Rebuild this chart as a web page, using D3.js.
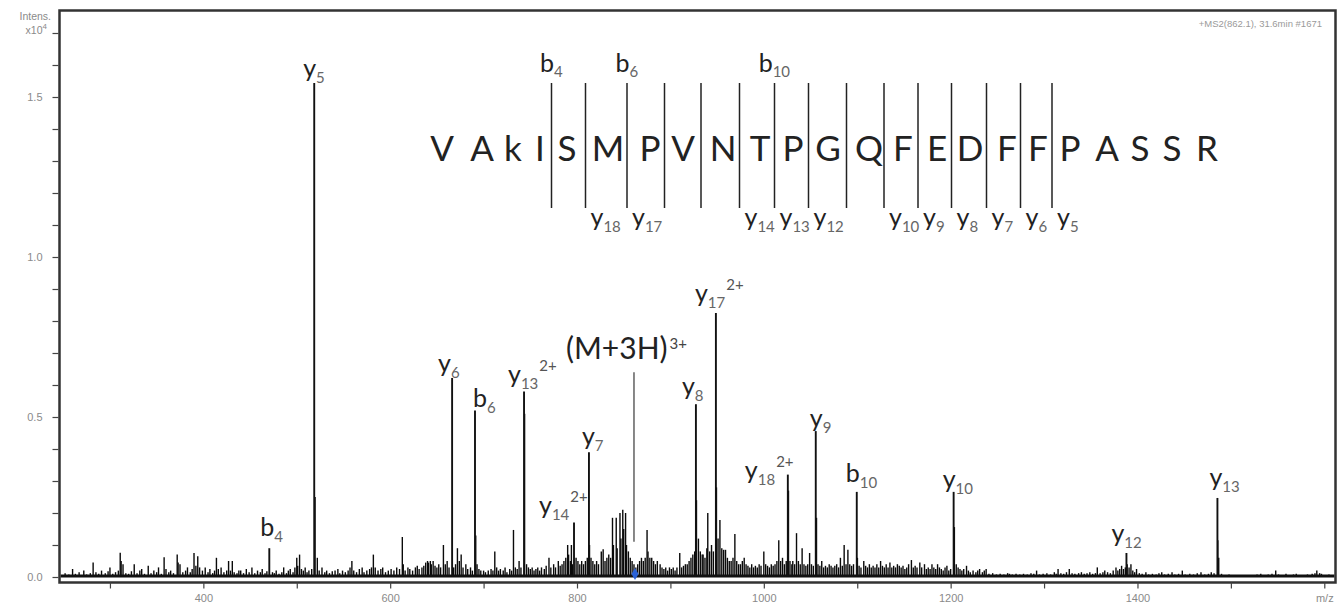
<!DOCTYPE html>
<html><head><meta charset="utf-8">
<script src="https://cdn.jsdelivr.net/npm/d3@7/dist/d3.min.js"></script>
<style>body{margin:0;background:#fff}svg{display:block}</style>
</head><body><svg id="c" width="1344" height="608"></svg>
<script>
// ---------------- DATA ----------------
const peakIons   = ["b","y","y","b","y","y","y","y","y","y","y","b","y","y","y"];
const peakNums   = ["4","5","6","6","13","14","7","8","17","18","9","10","10","12","13"];
const peakCharge = ["","","","","2+","2+","","","2+","2+","","","","",""];
const peakMz     = [470.6,518.7,666.3,690.8,743.3,796.8,812.8,927.3,948.7,1025.7,1055.6,1099.5,1203.2,1388.2,1485.6];
const peakInt    = [0.09,1.544,0.622,0.52,0.58,0.17,0.39,0.54,0.825,0.32,0.456,0.266,0.266,0.075,0.247];

const precursorMz = 862.1;
const precursorLabel = "(M+3H)";
const precursorCharge = "3+";
const precursorLeaderMz = 861;
const precursorLeaderInt = [0.11, 0.64];

const sequence = ["V","A","k","I","S","M","P","V","N","T","P","G","Q","F","E","D","F","F","P","A","S","S","R"];
const bSites = [4,6,10];
const ySites = [18,17,14,13,12,10,9,8,7,6,5];
const ySitesUnlabeled = [16,15,11];

const noise = [
[252,0.012],[256,0.008],[260,0.025],[263,0.01],[267,0.015],[272,0.02],[275,0.008],[279,0.012],[282,0.045],[285,0.015],[288,0.01],[291,0.02],[295,0.012],[298,0.018],[300,0.03],[303,0.01],[306,0.015],[309,0.02],[311,0.076],[312,0.05],[314,0.04],[317,0.012],[320,0.01],[323,0.018],[326,0.04],[329,0.012],
[332,0.02],[334,0.025],[337,0.01],[341,0.035],[344,0.012],[347,0.02],[350,0.015],[352,0.03],[355,0.01],[358,0.062],[360,0.025],[363,0.015],[365,0.02],[368,0.012],[372,0.07],[373,0.045],[375,0.04],[378,0.015],[381,0.02],[383,0.03],[386,0.015],[388,0.025],[390,0.075],[392,0.035],[394,0.065],[396,0.03],[399,0.02],[402,0.03],[405,0.015],[407,0.025],[410,0.012],[412,0.02],[414,0.06],[416,0.025],[419,0.03],
[422,0.015],[425,0.02],[427,0.05],[429,0.02],[431,0.05],[433,0.015],[436,0.012],[438,0.02],[440,0.02],[443,0.012],[446,0.025],[449,0.015],[452,0.03],[455,0.012],[458,0.02],[461,0.015],[463,0.025],[466,0.012],[468,0.018],[474,0.015],[476,0.012],[478,0.02],[481,0.01],[484,0.015],[486,0.03],[489,0.012],[491,0.02],[493,0.025],[496,0.015],[498,0.03],[500,0.06],[501,0.035],[503,0.07],[505,0.025],[507,0.02],[509,0.03],[511,0.015],[513,0.02],[516,0.025],[519.6,0.25],
[522,0.06],[524,0.02],[527,0.03],[530,0.015],[532,0.02],[535,0.012],[538,0.018],[541,0.02],[544,0.025],[546,0.012],[549,0.02],[552,0.015],[555,0.02],[557,0.03],[559,0.05],[561,0.02],[564,0.015],[567,0.025],[570,0.03],[572,0.015],[575,0.02],[578,0.025],[580,0.03],[582,0.07],[584,0.03],[587,0.02],[590,0.025],[592,0.03],[595,0.015],[598,0.02],[601,0.025],[604,0.02],[607,0.03],[610,0.025],[613,0.125],[614,0.04],[616,0.02],[619,0.03],[621,0.025],[624,0.02],[627,0.03],[629,0.035],[631,0.025],[634,0.03],[636,0.035],[638,0.045],[640,0.05],[641,0.045],[643,0.05],[644,0.04],[646,0.05],[648,0.035],[650,0.03],[652,0.04],[654,0.03],[657,0.1],[659,0.04],[661,0.05],[663,0.03],
[668,0.03],[670,0.04],[672,0.09],[674,0.05],[676,0.07],[678,0.03],[681,0.04],[683,0.025],[686,0.03],[688,0.02],[691.6,0.13],[693,0.04],[695,0.025],[697,0.02],[700,0.02],[702,0.015],[705,0.02],[708,0.025],[710,0.02],[712,0.08],[714,0.03],[716,0.02],[718,0.025],[721,0.02],[723,0.03],[725,0.015],[728,0.025],[730,0.02],[732,0.147],[734,0.03],[736,0.025],[738,0.05],[740,0.03],[743.9,0.51],
[746,0.04],[748,0.03],[750,0.025],[752,0.03],[754,0.02],[756,0.025],[758,0.03],[760,0.02],[762,0.03],[765,0.025],[767,0.035],[770,0.06],[772,0.03],[775,0.04],[777,0.03],[780,0.05],[782,0.035],[784,0.04],[786,0.05],[788,0.06],[790,0.1],[791,0.07],[793,0.05],[794,0.1],[795,0.04],
[799,0.06],[801,0.05],[803,0.04],[805,0.05],[807,0.04],[809,0.05],[811,0.06],[813.4,0.1],[815,0.06],[817,0.05],[819,0.04],[821,0.05],[823,0.04],[826,0.08],[828,0.087],[830,0.05],[832,0.06],[834,0.07],[836,0.06],[838,0.185],[839,0.1],[842,0.185],[843,0.09],[846,0.2],[847,0.12],[849,0.21],[850,0.15],[852,0.2],[853,0.1],[855,0.08],[857,0.06],[859,0.05],[861,0.04],[863,0.03],[865,0.04],[867,0.05],[869,0.06],[871,0.05],[873,0.06],[875,0.147],[876,0.08],[878,0.06],[880,0.06],[882,0.05],[884,0.04],[886,0.05],[889,0.04],[891,0.03],[893,0.025],[895,0.03],[897,0.02],[899,0.03],[901,0.025],[903,0.03],[905,0.02],[907,0.03],[910,0.075],[912,0.03],[914,0.035],[916,0.04],[918,0.04],[920,0.05],[922,0.06],[924,0.07],[926,0.08],
[927.9,0.24],[930,0.12],[932,0.08],[934,0.07],[935,0.07],[937,0.06],[939,0.09],[940,0.2],[942,0.08],[944,0.1],[946,0.08],[949.3,0.28],[951,0.12],[953,0.178],[955,0.09],[957,0.085],[959,0.085],[961,0.06],[963,0.05],[965,0.05],[967,0.06],[969,0.134],[971,0.05],[973,0.04],[975,0.04],[977,0.05],[979,0.06],[981,0.04],[983,0.035],[985,0.03],[987,0.04],[989,0.03],[991,0.035],[993,0.03],[995,0.04],[997,0.035],[1000,0.08],[1002,0.04],[1004,0.035],[1006,0.03],[1008,0.04],[1010,0.035],[1012,0.04],[1014,0.05],[1016,0.115],[1018,0.05],[1020,0.06],[1022,0.04],[1024,0.05],[1026.4,0.27],
[1028,0.05],[1030,0.04],[1031,0.05],[1033,0.04],[1035,0.137],[1037,0.05],[1039,0.04],[1041,0.09],[1043,0.04],[1045,0.035],[1047,0.04],[1049,0.075],[1051,0.04],[1053,0.035],[1056.4,0.185],[1058,0.04],[1060,0.035],[1062,0.05],[1064,0.03],[1066,0.035],[1068,0.03],[1070,0.04],[1072,0.035],[1074,0.03],[1076,0.035],[1078,0.04],[1080,0.03],[1082,0.06],[1084,0.035],[1086,0.1],[1088,0.04],[1090,0.085],[1092,0.04],[1094,0.035],[1096,0.04],[1100.2,0.06],
[1102,0.035],[1104,0.03],[1107,0.05],[1109,0.035],[1111,0.03],[1113,0.04],[1115,0.03],[1117,0.035],[1119,0.03],[1121,0.04],[1123,0.03],[1125,0.05],[1127,0.035],[1129,0.03],[1131,0.04],[1133,0.03],[1135,0.045],[1137,0.03],[1139,0.035],[1141,0.03],[1143,0.04],[1145,0.035],[1147,0.03],[1149,0.035],[1151,0.025],[1153,0.03],[1155,0.04],[1158,0.053],[1160,0.03],[1162,0.035],[1164,0.03],[1167,0.045],[1169,0.03],[1172,0.04],[1174,0.025],[1176,0.03],[1178,0.025],[1180,0.04],[1182,0.03],[1184,0.025],[1186,0.04],[1188,0.03],[1190,0.025],[1192,0.02],[1194,0.03],[1196,0.035],[1198,0.02],[1200,0.025],[1204,0.156],
[1206,0.04],[1208,0.03],[1210,0.025],[1212,0.02],[1214,0.025],[1217,0.035],[1219,0.02],[1221,0.015],[1224,0.02],[1227,0.015],[1229,0.02],[1231,0.025],[1234,0.015],[1236,0.02],[1238,0.025],[1241,0.01],[1245,0.012],[1249,0.008],[1253,0.01],[1257,0.008],[1261,0.012],[1263,0.01],[1266,0.008],[1270,0.01],[1274,0.008],[1278,0.01],[1282,0.008],[1286,0.012],[1289,0.01],[1292,0.02],[1295,0.008],[1299,0.01],[1303,0.012],[1307,0.008],[1311,0.015],[1313,0.01],[1315,0.025],[1318,0.012],[1321,0.01],[1324,0.015],[1327,0.025],[1330,0.012],[1333,0.01],[1337,0.012],[1340,0.015],[1343,0.01],[1346,0.012],[1349,0.015],[1352,0.01],[1355,0.012],[1357,0.03],[1360,0.012],[1363,0.015],[1365,0.02],[1368,0.015],[1371,0.012],[1374,0.02],[1377,0.03],[1379,0.02],[1381,0.025],[1383,0.035],[1385,0.025],[1387,0.03],[1389,0.04],
[1391,0.03],[1393,0.04],[1395,0.02],[1397,0.015],[1399,0.025],[1402,0.012],[1405,0.01],[1409,0.015],[1412,0.008],[1416,0.01],[1420,0.008],[1423,0.012],[1426,0.015],[1429,0.008],[1433,0.01],[1437,0.015],[1440,0.008],[1444,0.01],[1448,0.02],[1451,0.008],[1456,0.01],[1460,0.008],[1464,0.012],[1468,0.015],[1472,0.008],[1476,0.01],[1479,0.015],[1482,0.012],[1486,0.115],[1487,0.06],
[1490,0.01],[1494,0.006],[1498,0.008],[1502,0.005],[1506,0.006],[1510,0.004],[1514,0.006],[1518,0.005],[1520,0.005],[1524,0.006],[1528,0.008],[1532,0.01],[1536,0.006],[1540,0.008],[1544,0.01],[1548,0.02],[1551,0.008],[1555,0.006],[1559,0.01],[1563,0.006],[1567,0.008],[1570,0.01],[1574,0.006],[1578,0.005],[1582,0.008],[1587,0.01],[1590,0.012],[1592,0.02],[1595,0.012],[1597,0.01],[1601,0.006],[1605,0.008]
];

const yTickValues = [0,0.1,0.2,0.3,0.4,0.5,0.6,0.7,0.8,0.9,1.0,1.1,1.2,1.3,1.4,1.5,1.6,1.7];
const yTickLabeled = [0,0.5,1.0,1.5];
const xTickValues = [300,400,500,600,700,800,900,1000,1100,1200,1300,1400,1500,1600];
const xTickLabels = {400:"400",600:"600",800:"800",1000:"1000",1200:"1200",1400:"1400",1600:"m/z"};
const yAxisTitle = "Intens.";
const yAxisExp = ["x10","4"];
const headerText = "+MS2(862.1), 31.6min #1671";

// ---------------- LAYOUT ----------------
const plot = {left:59.5, right:1335.5, top:10.5, bottom:582.5, zeroY:577};
// label offsets (px) relative to each labelled peak top: [dx to label left, dy to baseline]
const labelOffset = [[-9,-12],[-11,-6],[-14,-6],[-2,-4],[-16,-8],[-35,-9],[-7,-7],[-14,-9],[-21,-11],[-43,4],[-6,-4],[-11,-10],[-11,-4],[-15,-11],[-8,-12]];
const seqCenters = [442,482,513,540,567,608,650,683,723,760,793,828,869,903,937,970,1007,1038,1070,1107,1140,1172,1207];
const seqBaseline = 161, divTop = 83, divBottom = 208;
const labelFont = "Lato, 'Open Sans', sans-serif";
const axisFont = "'Liberation Sans', Arial, sans-serif";

const svg = d3.select("#c");
const x = d3.scaleLinear().domain([246,1612]).range([plot.left, plot.right]);
const y = d3.scaleLinear().domain([0,1.5]).range([plot.zeroY, 97]);

// peaks: noise
const gPeaks = svg.append("g");
gPeaks.selectAll("line.n").data(noise).join("line")
  .attr("x1", d=>x(d[0])).attr("x2", d=>x(d[0]))
  .attr("y1", y(0)).attr("y2", d=>y(d[1]))
  .attr("stroke","#0a0a0a").attr("stroke-width",1.4);
// baseline grass
gPeaks.append("line").attr("x1",plot.left+1).attr("x2",plot.right-1)
  .attr("y1",y(0)-1).attr("y2",y(0)-1).attr("stroke","#111").attr("stroke-width",3);
// labelled peaks
const labelled = peakMz.map((m,i)=>({mz:m, v:peakInt[i], ion:peakIons[i], num:peakNums[i], ch:peakCharge[i], off:labelOffset[i]}));
gPeaks.selectAll("line.p").data(labelled).join("line")
  .attr("x1", d=>x(d.mz)).attr("x2", d=>x(d.mz))
  .attr("y1", y(0)).attr("y2", d=>y(d.v))
  .attr("stroke","#111").attr("stroke-width",1.9);

// precursor leader + diamond
svg.append("line").attr("x1",x(precursorLeaderMz)).attr("x2",x(precursorLeaderMz))
  .attr("y1",y(precursorLeaderInt[0])).attr("y2",y(precursorLeaderInt[1]))
  .attr("stroke","#555").attr("stroke-width",1.4);
svg.append("path").attr("d", d3.symbol(d3.symbolDiamond).size(42)())
  .attr("transform",`translate(${x(precursorMz)},${y(0)-3})`).attr("fill","#2a62d8");

function ionLabel(g, lx, ly, ion, num, ch, big, small, subDy, supDy){
  const t = g.append("text").attr("x",lx).attr("y",ly).attr("font-family",labelFont);
  t.append("tspan").text(ion).attr("font-size",big).attr("fill","#222");
  t.append("tspan").text(num).attr("font-size",small).attr("fill","#666").attr("dy",subDy);
  if(ch) t.append("tspan").text(ch).attr("font-size",small).attr("fill","#555").attr("dx",1).attr("dy",supDy - subDy);
  return t;
}

// peak labels
const gLab = svg.append("g");
labelled.forEach(d=>{
  ionLabel(gLab, x(d.mz)+d.off[0], y(d.v)+d.off[1], d.ion, d.num, d.ch, 25, 15, 6, -12);
});
// precursor label
{
  const t = gLab.append("text").attr("x",566).attr("y",y(precursorLeaderInt[1])-13).attr("font-family",labelFont);
  t.append("tspan").text(precursorLabel).attr("font-size",30).attr("fill","#222");
  t.append("tspan").text(precursorCharge).attr("font-size",15).attr("fill","#444").attr("dx",2).attr("dy",-10);
}

// sequence
const gSeq = svg.append("g");
gSeq.selectAll("text").data(sequence).join("text")
  .attr("x",(d,i)=>seqCenters[i]).attr("y",seqBaseline)
  .attr("text-anchor","middle").attr("font-family",labelFont).attr("font-size",35).attr("fill","#222")
  .text(d=>d);
const n = sequence.length;
const divX = k => (seqCenters[k]+seqCenters[k+1])/2 - 2; // divider after residue index k
const sites = [];
bSites.forEach(b=>sites.push(b-1));
ySites.concat(ySitesUnlabeled).forEach(v=>sites.push(n-v-1));
const uniq = Array.from(new Set(sites)).sort((a,b)=>a-b);
gSeq.selectAll("line").data(uniq).join("line")
  .attr("x1",divX).attr("x2",divX).attr("y1",divTop).attr("y2",divBottom)
  .attr("stroke","#222").attr("stroke-width",1.5);
bSites.forEach(b=>{
  const t = ionLabel(gSeq, 0, 72, "b", String(b), "", 25, 15, 5, 0);
  const w = t.node().getBBox().width;
  t.attr("x", divX(b-1) - w/2);
});
ySites.forEach(v=>{
  ionLabel(gSeq, divX(n-v-1)+5, 226, "y", String(v), "", 25, 15, 6, 0);
});

// frame
svg.append("rect").attr("x",plot.left).attr("y",plot.top)
  .attr("width",plot.right-plot.left).attr("height",plot.bottom-plot.top)
  .attr("fill","none").attr("stroke","#333").attr("stroke-width",2.5);

// axes
const yAxis = d3.axisLeft(y).tickValues(yTickValues).tickSize(6).tickPadding(10)
  .tickFormat(v=> yTickLabeled.some(t=>Math.abs(t-v)<1e-6) ? d3.format(".1f")(v) : "");
const gy = svg.append("g").attr("transform",`translate(${plot.left-1},0)`).call(yAxis);
const xAxis = d3.axisBottom(x).tickValues(xTickValues).tickSize(6).tickPadding(6)
  .tickFormat(v=> xTickLabels[v] || "");
const gx = svg.append("g").attr("transform",`translate(0,${plot.bottom})`).call(xAxis);
[gx,gy].forEach(g=>{
  g.select(".domain").remove();
  g.selectAll(".tick line").attr("stroke","#444").attr("stroke-width",1.2);
  g.selectAll(".tick text").attr("fill","#8a8a8a").attr("font-size",11).attr("font-family",axisFont);
});

// titles
svg.append("text").attr("x",51).attr("y",20).attr("text-anchor","end")
  .attr("font-family",axisFont).attr("font-size",10.5).attr("fill","#8a8a8a").text(yAxisTitle);
{
  const t = svg.append("text").attr("x",47).attr("y",34).attr("text-anchor","end")
    .attr("font-family",axisFont).attr("font-size",10.5).attr("fill","#8a8a8a");
  t.append("tspan").text(yAxisExp[0]);
  t.append("tspan").text(yAxisExp[1]).attr("font-size",8).attr("dy",-5);
}
svg.append("text").attr("x",1322).attr("y",27).attr("text-anchor","end")
  .attr("font-family",axisFont).attr("font-size",9.5).attr("fill","#9a9a9a").text(headerText);
</script></body></html>
